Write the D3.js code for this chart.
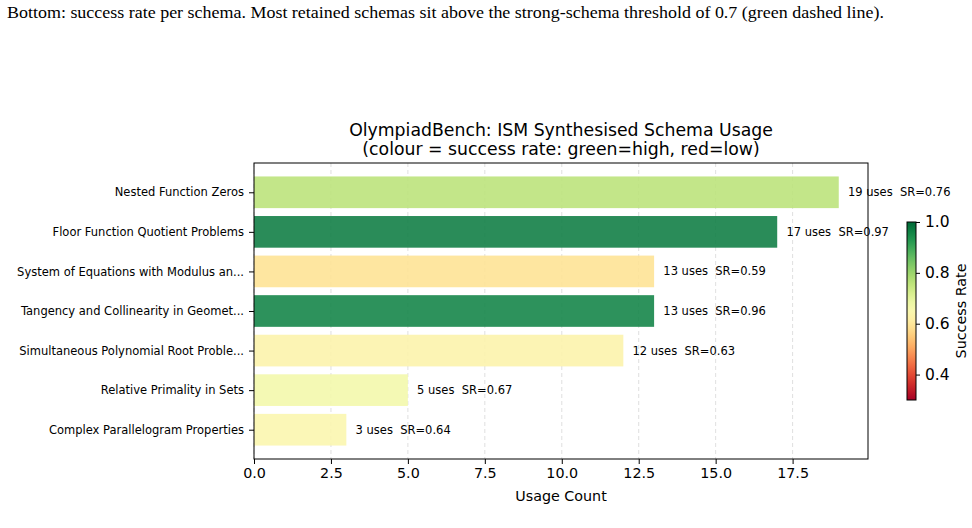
<!DOCTYPE html>
<html>
<head>
<meta charset="utf-8">
<script src="https://cdn.jsdelivr.net/npm/d3@7"></script>
<style>
  body { margin: 0; background: #fff; }
  svg { display: block; }
  text { font-family: "DejaVu Sans", sans-serif; fill: #000; }
  .caption { font-family: "Liberation Serif", "Times New Roman", serif; }
</style>
</head>
<body>
<script>
var width = 972;
var height = 528;

// chart data, top bar first
var schemas = [
    "Nested Function Zeros",
    "Floor Function Quotient Problems",
    "System of Equations with Modulus an...",
    "Tangency and Collinearity in Geomet...",
    "Simultaneous Polynomial Root Proble...",
    "Relative Primality in Sets",
    "Complex Parallelogram Properties"
];
var uses = [19, 17, 13, 13, 12, 5, 3];
var successRate = [0.76, 0.97, 0.59, 0.96, 0.63, 0.67, 0.64];
var xTicks = [0, 2.5, 5, 7.5, 10, 12.5, 15, 17.5];
var cbTicks = [0.4, 0.6, 0.8, 1.0];

var margin = {left: 254, right: 104, top: 163, bottom: 69};
var plotW = width - margin.left - margin.right;
var plotH = height - margin.top - margin.bottom;

var holder = d3.select("body")
    .append("svg")
    .attr("width", width)
    .attr("height", height);

// caption line from the paper above the figure
holder.append("text")
    .attr("class", "caption")
    .attr("x", 7)
    .attr("y", 18)
    .attr("textLength", 877)
    .attr("lengthAdjust", "spacingAndGlyphs")
    .style("font-size", "17.5px")
    .text("Bottom: success rate per schema. Most retained schemas sit above the strong-schema threshold of 0.7 (green dashed line).");

var x = d3.scaleLinear()
    .domain([0, d3.max(uses) * 1.05])
    .range([0, plotW]);

var y = d3.scaleLinear()
    .domain([-0.74, schemas.length - 1 + 0.74])
    .range([0, plotH]);

var color = d3.scaleSequential(d3.interpolateRdYlGn).domain([0.3, 1.0]);

var g = holder.append("g")
    .attr("transform", "translate(" + margin.left + "," + margin.top + ")");

// dashed grid
g.selectAll("line.grid")
    .data(xTicks)
    .enter().append("line")
    .attr("class", "grid")
    .attr("x1", function(d) { return x(d); })
    .attr("x2", function(d) { return x(d); })
    .attr("y1", 0)
    .attr("y2", plotH)
    .style("stroke", "#b0b0b0")
    .style("stroke-opacity", 0.4)
    .style("stroke-dasharray", "4,3");

// bars
g.selectAll("rect.bar")
    .data(uses)
    .enter().append("rect")
    .attr("class", "bar")
    .attr("x", x(0))
    .attr("y", function(d, i) { return y(i - 0.4); })
    .attr("width", function(d) { return x(d) - x(0); })
    .attr("height", y(0.4) - y(-0.4))
    .style("fill", function(d, i) { return color(successRate[i]); })
    .style("fill-opacity", 0.88);

// value labels
g.selectAll("text.val")
    .data(uses)
    .enter().append("text")
    .attr("class", "val")
    .attr("x", function(d) { return x(d + 0.3); })
    .attr("y", function(d, i) { return y(i); })
    .attr("dy", "0.35em")
    .style("font-size", "11.5px")
    .style("white-space", "pre")
    .text(function(d, i) { return d + " uses  SR=" + successRate[i].toFixed(2); });

// axes
var xAxis = d3.axisBottom(x)
    .tickValues(xTicks)
    .tickFormat(d3.format(".1f"))
    .tickSizeOuter(0)
    .tickSize(5)
    .tickPadding(4);

var gx = g.append("g")
    .attr("transform", "translate(0," + plotH + ")")
    .call(xAxis);
gx.select(".domain").remove();
gx.selectAll("text").style("font-size", "14.3px").style("font-family", "DejaVu Sans");

var yAxis = d3.axisLeft(y)
    .tickValues(d3.range(schemas.length))
    .tickFormat(function(i) { return schemas[i]; })
    .tickSizeOuter(0)
    .tickSize(5)
    .tickPadding(5);

var gy = g.append("g").call(yAxis);
gy.select(".domain").remove();
gy.selectAll("text").style("font-size", "11.5px").style("font-family", "DejaVu Sans");

// frame
g.append("rect")
    .attr("width", plotW)
    .attr("height", plotH)
    .style("fill", "none")
    .style("stroke", "#000")
    .style("stroke-width", 1);

// title
var title = holder.append("text")
    .attr("text-anchor", "middle")
    .attr("transform", "translate(" + (margin.left + plotW / 2) + ",136)")
    .style("font-size", "17.3px");
title.append("tspan").attr("x", 0).attr("y", 0)
    .text("OlympiadBench: ISM Synthesised Schema Usage");
title.append("tspan").attr("x", 0).attr("y", 19)
    .text("(colour = success rate: green=high, red=low)");

// x label
holder.append("text")
    .attr("text-anchor", "middle")
    .attr("x", margin.left + plotW / 2)
    .attr("y", 501)
    .style("font-size", "14.3px")
    .text("Usage Count");

// colour bar
var cbX = 907, cbY = 222, cbW = 9, cbH = 178;
var cb = d3.scaleLinear().domain([0.3, 1.0]).range([cbH, 0]);

var defs = holder.append("defs");
var grad = defs.append("linearGradient")
    .attr("id", "cbgrad")
    .attr("x1", "0").attr("y1", "1")
    .attr("x2", "0").attr("y2", "0");
grad.selectAll("stop")
    .data(d3.range(0, 1.0001, 0.05))
    .enter().append("stop")
    .attr("offset", function(d) { return d; })
    .attr("stop-color", function(d) { return d3.interpolateRdYlGn(d); });

var gc = holder.append("g")
    .attr("transform", "translate(" + cbX + "," + cbY + ")");
gc.append("rect")
    .attr("width", cbW)
    .attr("height", cbH)
    .style("fill", "url(#cbgrad)")
    .style("stroke", "#000")
    .style("stroke-width", 1);

var cbAxis = d3.axisRight(cb)
    .tickValues(cbTicks)
    .tickFormat(d3.format(".1f"))
    .tickSize(4)
    .tickPadding(5);
var gca = gc.append("g")
    .attr("transform", "translate(" + cbW + ",0)")
    .call(cbAxis);
gca.select(".domain").remove();
gca.selectAll("text").style("font-size", "15.5px").style("font-family", "DejaVu Sans");

holder.append("text")
    .attr("text-anchor", "middle")
    .attr("transform", "translate(966," + (cbY + cbH / 2) + ") rotate(-90)")
    .style("font-size", "14.3px")
    .text("Success Rate");
</script>
</body>
</html>
